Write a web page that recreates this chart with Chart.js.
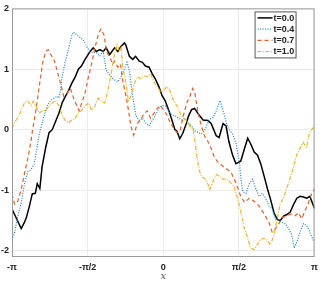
<!DOCTYPE html>
<html>
<head>
<meta charset="utf-8">
<script src="https://cdn.jsdelivr.net/npm/chart.js@4.4.1/dist/chart.umd.min.js"></script>
<style>
  html, body { margin: 0; padding: 0; background: #fff; }
  #wrap { width: 323px; height: 282px; }
</style>
</head>
<body>
<div id="wrap"><canvas id="chart" width="323" height="282"></canvas></div>
<script>
// x in units of pi, y
const seriesNames = ['t=0.0', 't=0.4', 't=0.7', 't=1.0'];
const xTicks = [-1, -0.5, 0, 0.5, 1];
const xTickLabels = ['-\u03c0', '-\u03c0/2', '0', '\u03c0/2', '\u03c0'];
const yTicks = [-2, -1, 0, 1, 2];

const t00 = [[-1,-1.31],[-0.939,-1.63],[-0.918,-1.53],[-0.905,-1.45],[-0.885,-1.26],[-0.866,-1.06],[-0.846,-1.05],[-0.833,-0.89],[-0.816,-0.97],[-0.801,-0.61],[-0.777,-0.29],[-0.755,-0.05],[-0.734,0.0],[-0.69,0.27],[-0.669,0.44],[-0.647,0.55],[-0.625,0.65],[-0.606,0.76],[-0.582,0.87],[-0.56,1.0],[-0.541,1.05],[-0.517,1.16],[-0.484,1.29],[-0.463,1.35],[-0.443,1.29],[-0.419,1.32],[-0.397,1.29],[-0.378,1.35],[-0.354,1.24],[-0.322,1.35],[-0.3,1.29],[-0.281,1.37],[-0.257,1.43],[-0.248,1.4],[-0.224,1.21],[-0.202,1.16],[-0.183,1.21],[-0.159,1.13],[-0.138,1.11],[-0.118,1.05],[-0.094,1.03],[-0.073,0.92],[-0.053,0.84],[-0.029,0.71],[-0.008,0.56],[0.012,0.48],[0.036,0.32],[0.057,0.16],[0.077,0.0],[0.09,-0.02],[0.109,-0.15],[0.129,-0.06],[0.155,0.12],[0.166,0.22],[0.187,0.33],[0.207,0.35],[0.231,0.26],[0.263,0.16],[0.296,0.15],[0.317,0.1],[0.35,-0.1],[0.369,-0.13],[0.395,0.1],[0.415,0.06],[0.434,-0.2],[0.458,-0.42],[0.48,-0.56],[0.512,-0.52],[0.537,-0.31],[0.558,-0.14],[0.579,-0.24],[0.601,-0.37],[0.623,-0.42],[0.644,-0.56],[0.667,-0.77],[0.688,-0.97],[0.709,-1.15],[0.732,-1.37],[0.753,-1.48],[0.773,-1.5],[0.797,-1.42],[0.818,-1.4],[0.839,-1.36],[0.862,-1.23],[0.883,-1.13],[0.904,-1.1],[0.927,-1.11],[0.948,-1.13],[0.969,-1.1],[0.992,-1.25],[1,-1.3]];

const t04 = [[-1,-1.82],[-0.983,-1.7],[-0.961,-1.42],[-0.939,-1.21],[-0.918,-0.9],[-0.896,-0.69],[-0.874,-0.66],[-0.853,-0.56],[-0.842,-0.4],[-0.82,-0.08],[-0.809,0.03],[-0.788,0.23],[-0.766,0.4],[-0.744,0.48],[-0.723,0.52],[-0.701,0.55],[-0.69,0.52],[-0.679,0.65],[-0.669,0.87],[-0.647,1.13],[-0.625,1.35],[-0.604,1.56],[-0.593,1.61],[-0.571,1.56],[-0.549,1.52],[-0.528,1.48],[-0.506,1.37],[-0.484,1.29],[-0.463,1.27],[-0.441,1.27],[-0.419,1.21],[-0.398,1.29],[-0.376,0.97],[-0.354,0.9],[-0.333,0.84],[-0.3,0.79],[-0.279,0.87],[-0.257,1.0],[-0.24,1.11],[-0.224,0.97],[-0.202,0.55],[-0.181,0.23],[-0.159,0.15],[-0.138,0.19],[-0.116,0.11],[-0.094,0.06],[-0.073,0.15],[-0.051,0.24],[-0.029,0.35],[-0.008,0.4],[0.014,0.39],[0.036,0.31],[0.057,0.24],[0.079,0.23],[0.101,0.19],[0.122,0.16],[0.144,0.19],[0.166,0.11],[0.187,0.06],[0.209,-0.02],[0.252,-0.07],[0.272,-0.02],[0.304,0.17],[0.33,0.2],[0.352,0.32],[0.374,0.48],[0.395,0.32],[0.417,0.11],[0.428,0.03],[0.46,-0.08],[0.482,-0.24],[0.493,-0.4],[0.504,-0.56],[0.514,-0.82],[0.525,-1.02],[0.547,-1.05],[0.569,-0.89],[0.59,-0.82],[0.612,-0.98],[0.634,-1.1],[0.655,-1.05],[0.677,-1.13],[0.699,-1.26],[0.72,-1.31],[0.742,-1.47],[0.764,-1.5],[0.785,-1.53],[0.807,-1.55],[0.829,-1.63],[0.85,-1.74],[0.865,-1.95],[0.883,-1.85],[0.904,-1.69],[0.926,-1.55],[0.948,-1.58],[0.969,-1.69],[0.991,-1.82],[1,-1.84]];

const t07 = [[-1,-1.06],[-0.983,-1.23],[-0.961,-1.18],[-0.939,-0.98],[-0.918,-0.73],[-0.896,-0.48],[-0.874,-0.18],[-0.864,0.0],[-0.842,0.32],[-0.82,0.71],[-0.799,1.08],[-0.777,1.29],[-0.76,1.32],[-0.744,1.24],[-0.723,1.16],[-0.701,0.97],[-0.679,0.76],[-0.658,0.55],[-0.636,0.6],[-0.614,0.68],[-0.593,0.52],[-0.571,0.39],[-0.556,0.31],[-0.539,0.44],[-0.517,0.6],[-0.495,0.87],[-0.474,1.08],[-0.452,1.35],[-0.43,1.56],[-0.413,1.66],[-0.391,1.56],[-0.376,1.29],[-0.354,1.19],[-0.333,1.08],[-0.322,1.13],[-0.3,1.03],[-0.283,1.08],[-0.268,0.81],[-0.246,0.55],[-0.23,0.32],[-0.214,0.06],[-0.196,-0.09],[-0.17,0.11],[-0.149,0.16],[-0.127,0.27],[-0.105,0.31],[-0.084,0.19],[-0.062,0.27],[-0.04,0.35],[-0.019,0.4],[0.003,0.32],[0.025,0.24],[0.046,0.11],[0.068,0.03],[0.09,-0.05],[0.111,-0.02],[0.133,0.23],[0.155,0.44],[0.176,0.55],[0.194,0.68],[0.209,0.6],[0.231,0.27],[0.252,0.06],[0.272,-0.1],[0.296,-0.2],[0.317,-0.31],[0.337,-0.45],[0.356,-0.52],[0.382,-0.58],[0.415,-0.64],[0.447,-0.7],[0.48,-0.87],[0.512,-1.1],[0.537,-1.2],[0.569,-1.13],[0.601,-1.18],[0.634,-1.26],[0.667,-1.39],[0.699,-1.53],[0.72,-1.69],[0.742,-1.63],[0.764,-1.55],[0.785,-1.45],[0.818,-1.42],[0.85,-1.39],[0.872,-1.42],[0.894,-1.37],[0.915,-1.47],[0.937,-1.34],[0.959,-1.21],[0.98,-1.06],[1,-0.98]];

const t10 = [[-1,0.02],[-0.983,0.12],[-0.961,0.2],[-0.939,0.32],[-0.918,0.44],[-0.896,0.47],[-0.874,0.4],[-0.859,0.47],[-0.842,0.39],[-0.82,0.27],[-0.799,0.31],[-0.777,0.32],[-0.755,0.39],[-0.734,0.44],[-0.712,0.48],[-0.69,0.39],[-0.669,0.24],[-0.647,0.15],[-0.625,0.11],[-0.604,0.16],[-0.582,0.19],[-0.56,0.27],[-0.539,0.32],[-0.517,0.39],[-0.495,0.44],[-0.474,0.32],[-0.452,0.39],[-0.43,0.52],[-0.409,0.47],[-0.387,0.44],[-0.365,0.65],[-0.344,0.94],[-0.322,1.25],[-0.305,1.4],[-0.289,1.29],[-0.279,1.35],[-0.268,1.03],[-0.246,0.76],[-0.231,0.48],[-0.214,0.55],[-0.192,0.76],[-0.17,0.87],[-0.149,0.84],[-0.127,0.89],[-0.105,0.87],[-0.084,0.92],[-0.062,0.79],[-0.04,0.71],[-0.019,0.63],[0.003,0.65],[0.025,0.71],[0.046,0.63],[0.068,0.48],[0.09,0.39],[0.111,0.27],[0.133,0.19],[0.155,0.15],[0.176,0.06],[0.198,0.0],[0.209,-0.18],[0.22,-0.4],[0.237,-0.66],[0.252,-0.77],[0.274,-0.81],[0.296,-0.9],[0.306,-1.0],[0.329,-0.85],[0.35,-0.74],[0.371,-0.77],[0.393,-0.82],[0.415,-0.81],[0.436,-0.85],[0.469,-0.94],[0.491,-1.13],[0.512,-1.34],[0.534,-1.61],[0.556,-1.77],[0.577,-1.95],[0.599,-1.98],[0.621,-1.9],[0.642,-1.82],[0.664,-1.79],[0.686,-1.82],[0.707,-1.9],[0.729,-1.77],[0.751,-1.5],[0.772,-1.23],[0.794,-1.13],[0.816,-0.97],[0.837,-0.81],[0.859,-0.64],[0.881,-0.42],[0.902,-0.32],[0.924,-0.21],[0.946,-0.29],[0.967,-0.05],[0.989,0.03],[1,0.0]];

const toPoints = arr => arr.map(p => ({ x: p[0] * Math.PI, y: p[1] }));

const styles = [
  { color: '#000000', dash: [], width: 1.5 },
  { color: '#1f80c8', dash: [1, 1.5], width: 1.2 },
  { color: '#e0602a', dash: [4, 3], width: 1.2 },
  { color: '#eeb42c', dash: [4, 1.5, 1, 1.5], width: 1.2 }
];

const datasets = [t00, t04, t07, t10].map((arr, i) => ({
  label: seriesNames[i],
  data: toPoints(arr),
  borderColor: styles[i].color,
  borderDash: styles[i].dash,
  borderWidth: styles[i].width,
  pointRadius: 0,
  tension: 0,
  fill: false,
  order: 3 - i
}));

// box round the axes plus a matlab-like legend in the corner
const frame = {
  id: 'frame',
  afterDatasetsDraw(chart) {
    const { ctx, chartArea: a } = chart;
    ctx.save();
    ctx.strokeStyle = '#9a9a9a';
    ctx.lineWidth = 1;
    ctx.strokeRect(a.left + 0.5, a.top + 0.5, a.right - a.left - 1, a.bottom - a.top - 1);

    const bx = a.right - 60, by = a.top + 3, bw = 41, bh = 46;
    ctx.fillStyle = '#fff';
    ctx.fillRect(bx, by, bw, bh);
    ctx.strokeStyle = '#555';
    ctx.strokeRect(bx + 0.5, by + 0.5, bw, bh);
    ctx.font = 'bold 9px "Liberation Sans", Arial, sans-serif';
    ctx.textBaseline = 'middle';
    chart.data.datasets.forEach((ds, i) => {
      const y = by + 6.5 + i * 11.2;
      ctx.beginPath();
      ctx.strokeStyle = ds.borderColor;
      ctx.lineWidth = ds.borderWidth;
      ctx.setLineDash(ds.borderDash);
      ctx.moveTo(bx + 3, y);
      ctx.lineTo(bx + 18, y);
      ctx.stroke();
      ctx.setLineDash([]);
      ctx.fillStyle = '#222';
      ctx.fillText(ds.label, bx + 19, y + 0.5);
    });
    ctx.restore();
  }
};

new Chart(document.getElementById('chart'), {
  type: 'line',
  data: { datasets },
  options: {
    responsive: false,
    animation: false,
    layout: { padding: { top: 3, right: 2, left: 0, bottom: 0 } },
    plugins: { legend: { display: false }, tooltip: { enabled: false } },
    scales: {
      x: {
        type: 'linear',
        min: -Math.PI,
        max: Math.PI,
        afterBuildTicks: s => { s.ticks = xTicks.map(v => ({ value: v * Math.PI })); },
        afterFit: s => { s.height = 25; },
        ticks: {
          padding: 5,
          maxRotation: 0,
          color: '#222',
          font: { family: '"Liberation Sans", Arial, sans-serif', size: 9, weight: 'bold' },
          callback: (v, i) => xTickLabels[i]
        },
        grid: { color: '#ececec', drawTicks: false },
        border: { display: false },
        title: {
          display: true,
          text: 'x',
          color: '#555',
          padding: { top: 0, bottom: 0 },
          font: { family: '"DejaVu Serif", serif', size: 10, style: 'italic' }
        }
      },
      y: {
        min: -2.1,
        max: 2,
        afterBuildTicks: s => { s.ticks = yTicks.map(v => ({ value: v })); },
        afterFit: s => { s.width = 12; },
        ticks: {
          padding: 3,
          color: '#222',
          font: { family: '"Liberation Sans", Arial, sans-serif', size: 9, weight: 'bold' }
        },
        grid: { color: '#ececec', drawTicks: false },
        border: { display: false }
      }
    }
  },
  plugins: [frame]
});
</script>
</body>
</html>
